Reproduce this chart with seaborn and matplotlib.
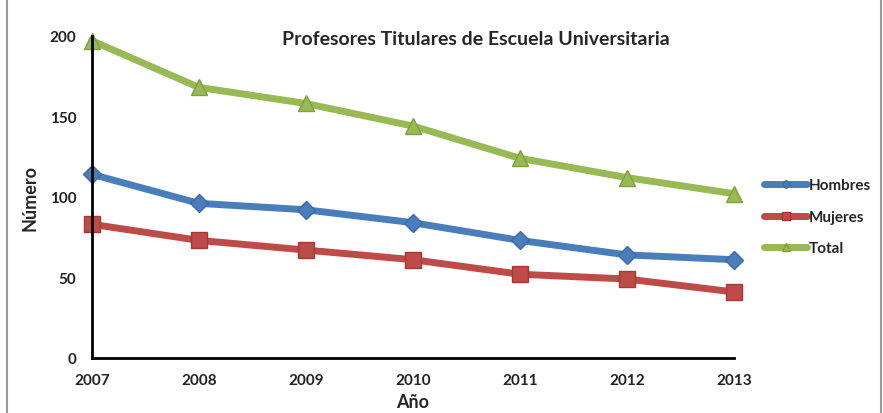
import matplotlib
matplotlib.use('Agg')
import matplotlib.pyplot as plt
import pandas as pd
import seaborn as sns

years = [2007, 2008, 2009, 2010, 2011, 2012, 2013]
hombres = [114, 96, 92, 84, 73, 64, 61]
mujeres = [83, 73, 67, 61, 52, 49, 41]
total = [197, 168, 158, 144, 124, 112, 102]
series_names = ['Hombres', 'Mujeres', 'Total']

df = pd.DataFrame({'Año': years, 'Hombres': hombres, 'Mujeres': mujeres, 'Total': total})
long_df = df.melt(id_vars='Año', var_name='serie', value_name='Número')

sns.set_style('white')
plt.rcParams['font.family'] = ['Lato', 'DejaVu Sans']

colors = {'Hombres': '#4a7ebb', 'Mujeres': '#be4b48', 'Total': '#98b954'}
markers = {'Hombres': 'D', 'Mujeres': 's', 'Total': '^'}
edges = {'Hombres': '#3a6aa8', 'Mujeres': '#a33a37', 'Total': '#7fa040'}
msizes = {'Hombres': 9, 'Mujeres': 12, 'Total': 12}

fig = plt.figure(figsize=(8.83, 4.14), dpi=100)
ax = fig.add_axes([0.104, 0.133, 0.727, 0.778])

for name in series_names:
    sub = long_df[long_df['serie'] == name]
    sns.lineplot(data=sub, x='Año', y='Número', ax=ax, color=colors[name],
                 linewidth=5, marker=markers[name], markersize=msizes[name],
                 markerfacecolor=colors[name], markeredgecolor=edges[name],
                 markeredgewidth=1, label=name, clip_on=False)

ax.set_xlim(2007, 2013)
ax.set_ylim(0, 200)
ax.set_xticks(years)
ax.set_yticks([0, 50, 100, 150, 200])
for s in ['top', 'right']:
    ax.spines[s].set_visible(False)
for s in ['left', 'bottom']:
    ax.spines[s].set_color('black')
    ax.spines[s].set_linewidth(2)
ax.tick_params(axis='both', direction='out', length=5, width=1.5, color='black',
               labelsize=11, pad=6)
for lbl in ax.get_xticklabels() + ax.get_yticklabels():
    lbl.set_fontweight('bold')
    lbl.set_color('#222222')

ax.set_xlabel('Año', fontsize=13, fontweight='bold', labelpad=4)
ax.set_ylabel('Número', fontsize=13, fontweight='bold', labelpad=8)
fig.text(0.539, 0.905, 'Profesores Titulares de Escuela Universitaria', fontsize=14,
         fontweight='bold', ha='center', va='center')

leg = ax.legend(loc='center left', bbox_to_anchor=(1.026, 0.438), frameon=False,
                fontsize=11, handlelength=2.8, labelspacing=1.15, handletextpad=0.1,
                markerscale=0.45)
for t in leg.get_texts():
    t.set_fontweight('bold')

fig.patches.append(plt.Rectangle((0.008, -0.01), 0.99, 1.02, transform=fig.transFigure,
                                 fill=False, edgecolor='#999999', linewidth=1.5))

fig.savefig('out.png', dpi=100)
